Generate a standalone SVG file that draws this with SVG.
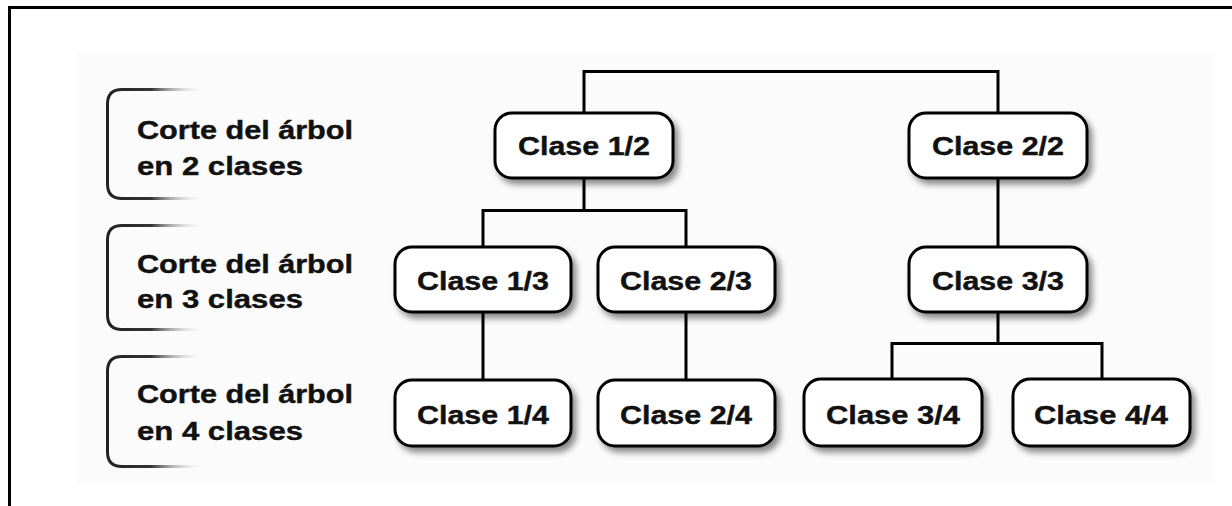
<svg xmlns="http://www.w3.org/2000/svg" width="1232" height="506" viewBox="0 0 1232 506">
<style>
.node rect{fill:#fff;stroke:#000;stroke-width:3;filter:url(#sh)}
.node text{font-family:"Liberation Sans",Arial,sans-serif;font-weight:bold;font-size:26px;text-anchor:middle;fill:#111;stroke:#111;stroke-width:0.4}
.lbl text{font-family:"Liberation Sans",Arial,sans-serif;font-weight:bold;font-size:25px;fill:#111;stroke:#111;stroke-width:0.4}
.lbl path{fill:none;stroke:url(#fade);stroke-width:3}
.conn path{fill:none;stroke:#000;stroke-width:3}
</style>
<defs>
<filter id="sh" x="-10%" y="-20%" width="130%" height="150%">
<feDropShadow dx="4" dy="5" stdDeviation="3" flood-color="#000" flood-opacity="0.45"/>
</filter>
<linearGradient id="fade" gradientUnits="userSpaceOnUse" x1="107" y1="0" x2="205" y2="0">
<stop offset="0" stop-color="#222"/>
<stop offset="0.45" stop-color="#333"/>
<stop offset="1" stop-color="#fff" stop-opacity="0"/>
</linearGradient>
</defs>
<rect width="1232" height="506" fill="#fff"/>
<rect x="77" y="52" width="1136" height="432" fill="#fbfbfb"/>
<path d="M9.5,506 V7.5 H1232" fill="none" stroke="#000" stroke-width="3"/>
<g id="connectors" class="conn">
<path d="M584,113 V71.5 H998 V113"/>
<path d="M584,179 V210.5 M483,247 V210.5 H686 V247"/>
<path d="M998,178 V247"/>
<path d="M483,312 V380"/>
<path d="M686,312 V380"/>
<path d="M998,312 V343.5 M892,379 V343.5 H1102 V379"/>
</g>
<g id="label-2" class="lbl">
<path d="M205,89.5 H122 Q107.5,89.5 107.5,104 V184 Q107.5,198.5 122,198.5 H205"/>
<text x="137" y="139" textLength="216" lengthAdjust="spacingAndGlyphs">Corte del árbol</text>
<text x="137" y="175" textLength="166" lengthAdjust="spacingAndGlyphs">en 2 clases</text>
</g>
<g id="label-3" class="lbl">
<path d="M205,225.5 H122 Q107.5,225.5 107.5,240 V315 Q107.5,329.5 122,329.5 H205"/>
<text x="137" y="273" textLength="216" lengthAdjust="spacingAndGlyphs">Corte del árbol</text>
<text x="137" y="308" textLength="166" lengthAdjust="spacingAndGlyphs">en 3 clases</text>
</g>
<g id="label-4" class="lbl">
<path d="M205,356.5 H122 Q107.5,356.5 107.5,371 V452 Q107.5,466.5 122,466.5 H205"/>
<text x="137" y="403" textLength="216" lengthAdjust="spacingAndGlyphs">Corte del árbol</text>
<text x="137" y="440" textLength="166" lengthAdjust="spacingAndGlyphs">en 4 clases</text>
</g>
<g id="n12" class="node"><rect x="495" y="113" width="178" height="65" rx="17"/><text x="584" y="155" textLength="132" lengthAdjust="spacingAndGlyphs">Clase 1/2</text></g>
<g id="n22" class="node"><rect x="909" y="113" width="178" height="65" rx="17"/><text x="998" y="155" textLength="132" lengthAdjust="spacingAndGlyphs">Clase 2/2</text></g>
<g id="n13" class="node"><rect x="395" y="247" width="176" height="65" rx="17"/><text x="483" y="290" textLength="132" lengthAdjust="spacingAndGlyphs">Clase 1/3</text></g>
<g id="n23" class="node"><rect x="598" y="247" width="177" height="65" rx="17"/><text x="686" y="290" textLength="132" lengthAdjust="spacingAndGlyphs">Clase 2/3</text></g>
<g id="n33" class="node"><rect x="909" y="247" width="178" height="65" rx="17"/><text x="998" y="290" textLength="132" lengthAdjust="spacingAndGlyphs">Clase 3/3</text></g>
<g id="n14" class="node"><rect x="395" y="380" width="176" height="66" rx="17"/><text x="483" y="424" textLength="132" lengthAdjust="spacingAndGlyphs">Clase 1/4</text></g>
<g id="n24" class="node"><rect x="598" y="380" width="177" height="66" rx="17"/><text x="686" y="424" textLength="132" lengthAdjust="spacingAndGlyphs">Clase 2/4</text></g>
<g id="n34" class="node"><rect x="804" y="379" width="178" height="67" rx="17"/><text x="893" y="424" textLength="134" lengthAdjust="spacingAndGlyphs">Clase 3/4</text></g>
<g id="n44" class="node"><rect x="1013" y="379" width="177" height="67" rx="17"/><text x="1101" y="424" textLength="134" lengthAdjust="spacingAndGlyphs">Clase 4/4</text></g>
</svg>
